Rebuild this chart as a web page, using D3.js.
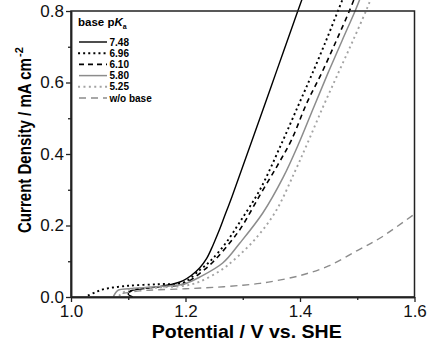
<!DOCTYPE html>
<html><head><meta charset="utf-8">
<script src="https://cdn.jsdelivr.net/npm/d3@7"></script>
<style>body{margin:0;background:#fff}svg{display:block}text{font-family:"Liberation Sans",Arial,sans-serif}</style>
</head><body><svg id="c" width="431" height="345"></svg>
<script>
const legendLabels = ["7.48","6.96","6.10","5.80","5.25","w/o base"];
const v748 = [1.108,1.100,1.104,1.112,1.130,1.155,1.180,1.196,1.210,1.225,1.237,1.248,1.258,1.268,1.281,1.300,1.330,1.360,1.390,1.404];
const j748 = [0.000,0.008,0.017,0.020,0.024,0.029,0.037,0.046,0.060,0.082,0.108,0.145,0.183,0.225,0.280,0.365,0.500,0.636,0.772,0.835];
const v696 = [1.031,1.045,1.056,1.097,1.155,1.196,1.225,1.243,1.270,1.295,1.330,1.368,1.399,1.422,1.446,1.467,1.475];
const j696 = [0.005,0.015,0.0215,0.031,0.036,0.040,0.0755,0.100,0.150,0.210,0.300,0.430,0.543,0.627,0.719,0.803,0.835];
const v610 = [1.100,1.105,1.115,1.155,1.196,1.225,1.248,1.277,1.298,1.330,1.361,1.385,1.412,1.438,1.464,1.487,1.495];
const j610 = [0.012,0.017,0.022,0.029,0.036,0.066,0.098,0.151,0.196,0.285,0.369,0.439,0.543,0.627,0.719,0.803,0.835];
const v580 = [1.074,1.078,1.083,1.100,1.126,1.160,1.196,1.225,1.265,1.295,1.335,1.371,1.398,1.424,1.449,1.474,1.497,1.505];
const j580 = [0.001,0.012,0.0196,0.023,0.026,0.030,0.0355,0.056,0.095,0.151,0.235,0.336,0.430,0.531,0.627,0.719,0.803,0.835];
const v525 = [1.085,1.100,1.150,1.200,1.225,1.262,1.282,1.320,1.357,1.390,1.413,1.440,1.467,1.493,1.516,1.524];
const j525 = [0.005,0.020,0.026,0.032,0.043,0.075,0.100,0.159,0.238,0.347,0.430,0.531,0.627,0.719,0.803,0.835];
const vNo = [1.090,1.120,1.150,1.200,1.250,1.300,1.330,1.350,1.400,1.450,1.500,1.540,1.600];
const jNo = [0.010,0.017,0.020,0.023,0.027,0.033,0.038,0.043,0.060,0.087,0.130,0.165,0.232];
const xMajor = [1.0,1.2,1.4,1.6], xMinor = [1.1,1.3,1.5];
const yMajor = [0.0,0.2,0.4,0.6,0.8], yMinor = [0.1,0.3,0.5,0.7];

const series = [
  {v:v748,j:j748,color:"#000",dash:null,w:1.4,dot:false},
  {v:v696,j:j696,color:"#000",dash:"0.1 5",w:1.9,dot:true},
  {v:v610,j:j610,color:"#000",dash:"5 4",w:1.6,dot:false},
  {v:v580,j:j580,color:"#8c8c8c",dash:null,w:1.5,dot:false},
  {v:v525,j:j525,color:"#a3a3a3",dash:"0.1 5.3",w:1.9,dot:true},
  {v:vNo,j:jNo,color:"#8c8c8c",dash:"7 5",w:1.4,dot:false}
];

const svg = d3.select("#c");
const L=71,R=414.5,T=11,B=297;
const x = d3.scaleLinear().domain([1.0,1.6]).range([L,R]);
const y = d3.scaleLinear().domain([0,0.8]).range([B,T]);

const line = d3.line().x(d=>x(d[0])).y(d=>y(d[1])).curve(d3.curveCatmullRom.alpha(0.5));
series.forEach(s=>{
  const pts = s.v.map((v,i)=>[v,s.j[i]]);
  svg.append("path").attr("d",line(pts)).attr("fill","none")
    .attr("stroke",s.color).attr("stroke-width",s.w)
    .attr("stroke-dasharray",s.dash).attr("stroke-linecap", s.dot ? "square":"butt");
});

// frame
svg.append("rect").attr("x",L).attr("y",T).attr("width",R-L).attr("height",B-T)
  .attr("fill","none").attr("stroke","#222").attr("stroke-width",1.5);

const fmt = d3.format(".1f");
svg.append("g").attr("transform",`translate(0,${B})`)
  .call(d3.axisBottom(x).tickValues(xMajor).tickFormat(fmt).tickSize(5).tickPadding(3).tickSizeOuter(0));
svg.append("g").attr("transform",`translate(0,${B})`)
  .call(d3.axisBottom(x).tickValues(xMinor).tickFormat("").tickSize(3).tickSizeOuter(0));
svg.append("g").attr("transform",`translate(${L},0)`)
  .call(d3.axisLeft(y).tickValues(yMajor).tickFormat(fmt).tickSize(5).tickPadding(2).tickSizeOuter(0));
svg.append("g").attr("transform",`translate(${L},0)`)
  .call(d3.axisLeft(y).tickValues(yMinor).tickFormat("").tickSize(3).tickSizeOuter(0));
svg.selectAll(".domain").attr("stroke","#222").attr("stroke-width",1.5);
svg.selectAll(".tick line").attr("stroke","#222").attr("stroke-width",1.3);
svg.selectAll(".tick text").attr("font-size",17).attr("fill","#111").attr("font-family","Liberation Sans, Arial, sans-serif");

// axis titles
svg.append("text").attr("x",246.7).attr("y",338).attr("text-anchor","middle")
  .attr("font-size",19).attr("font-weight","bold").attr("textLength",190).attr("lengthAdjust","spacingAndGlyphs")
  .text("Potential / V vs. SHE");
const yt = svg.append("g").attr("transform","translate(31,233) rotate(-90)");
yt.append("text").attr("x",0).attr("y",0).attr("font-size",18.5).attr("font-weight","bold")
  .attr("textLength",175).attr("lengthAdjust","spacingAndGlyphs").text("Current Density / mA cm");
yt.append("text").attr("x",176).attr("y",-8).attr("font-size",11).attr("font-weight","bold").text("-2");

// legend
const lg = svg.append("g");
const t = lg.append("text").attr("x",78).attr("y",26).attr("font-size",11.5).attr("font-weight","bold");
t.append("tspan").text("base p");
t.append("tspan").attr("font-style","italic").text("K");
t.append("tspan").attr("font-size",7).attr("dy",3).text("a");
const ly = [42,53.2,64.4,75.6,86.8,98];
series.forEach((s,i)=>{
  lg.append("line").attr("x1",79).attr("x2",107).attr("y1",ly[i]).attr("y2",ly[i])
    .attr("stroke",s.color).attr("stroke-width",s.w).attr("stroke-dasharray",s.dash)
    .attr("stroke-linecap", s.dot ? "square":"butt");
  lg.append("text").attr("x",109.5).attr("y",ly[i]).attr("dy","0.36em")
    .attr("font-size",10).attr("font-weight","bold").text(legendLabels[i]);
});
</script></body></html>
